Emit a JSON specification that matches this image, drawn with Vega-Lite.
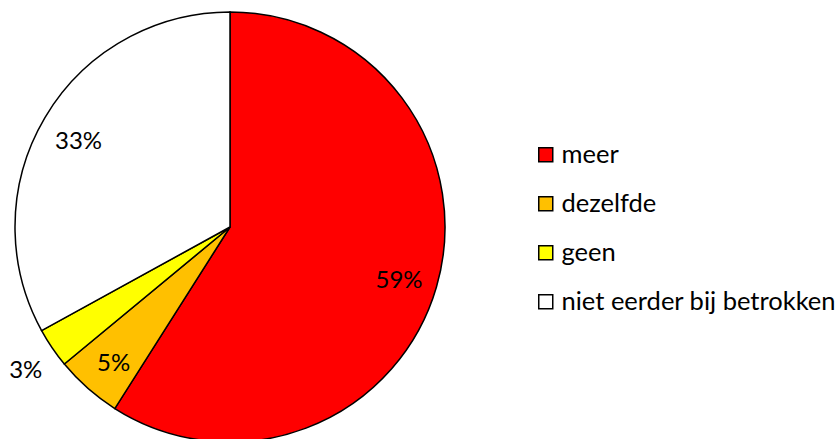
{
  "$schema": "https://vega.github.io/schema/vega-lite/v6.json",
  "width": 837,
  "height": 439,
  "autosize": "none",
  "padding": 0,
  "background": "white",
  "config": {"view": {"stroke": null}},
  "data": {"values": [
    {"category": "meer", "share": 0.59, "rank": 1},
    {"category": "dezelfde", "share": 0.05, "rank": 2},
    {"category": "geen", "share": 0.03, "rank": 3},
    {"category": "niet eerder bij betrokken", "share": 0.33, "rank": 4}
  ]},
  "encoding": {
    "theta": {"field": "share", "type": "quantitative", "stack": true},
    "order": {"field": "rank", "type": "quantitative"}
  },
  "layer": [
    {
      "mark": {"type": "arc", "outerRadius": 215, "stroke": "black", "strokeWidth": 1.5, "x": 230, "y": 227},
      "encoding": {
        "color": {
          "field": "category", "type": "nominal",
          "scale": {"domain": ["meer", "dezelfde", "geen", "niet eerder bij betrokken"], "range": ["#FF0000", "#FFC000", "#FFFF00", "#FFFFFF"]},
          "legend": {
            "title": null, "orient": "none", "legendX": 533, "legendY": 142,
            "symbolType": "square", "symbolSize": 196, "symbolStrokeColor": "black", "symbolStrokeWidth": 1.5,
            "symbolOpacity": 1,
            "labelFont": "Lato", "labelFontSize": 25.5, "labelColor": "black", "labelOffset": 3,
            "rowPadding": 22, "labelLimit": 400
          }
        }
      }
    },
    {
      "mark": {"type": "text", "radius": 176, "x": 230, "y": 227, "dy": 5, "font": "Lato", "fontSize": 24, "color": "black"},
      "encoding": {
        "text": {"field": "share", "type": "quantitative", "format": ".0%"},
        "opacity": {"condition": {"test": "datum.category == 'geen'", "value": 0}, "value": 1}
      }
    },
    {
      "mark": {"type": "text", "radius": 247, "x": 230, "y": 227, "dy": 5, "font": "Lato", "fontSize": 24, "color": "black"},
      "encoding": {
        "text": {"field": "share", "type": "quantitative", "format": ".0%"},
        "opacity": {"condition": {"test": "datum.category == 'geen'", "value": 1}, "value": 0}
      }
    }
  ]
}
